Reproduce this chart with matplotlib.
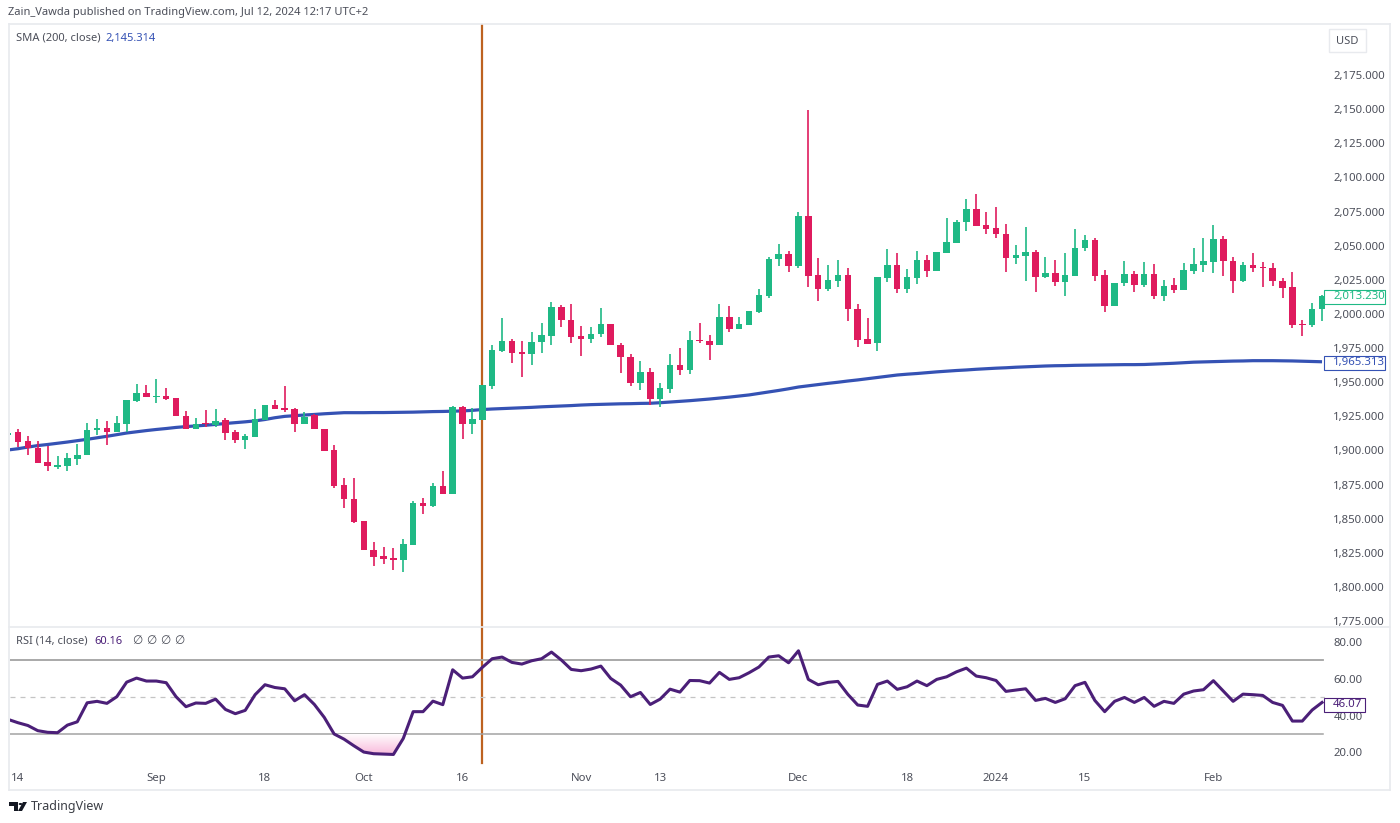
import matplotlib
matplotlib.use("Agg")
import matplotlib.pyplot as plt
import numpy as np
from matplotlib.colors import LinearSegmentedColormap
from matplotlib.patches import Rectangle, Polygon, Circle

plt.rcParams['font.family'] = ['Noto Sans', 'DejaVu Sans']

# daily candles, first one is cut off by the left edge
opens = [1911.4,
    1913.3,1907.2,1901.8,1891.6,1888.1,1888.4,1893.8,1896.7,1915.0,1916.5,
    1913.3,1919.6,1936.3,1942.3,1939.4,1939.7,1938.5,1925.3,1916.0,1920.1,
    1918.5,1922.3,1913.3,1907.7,1910.1,1922.3,1933.5,1930.9,1930.2,1919.6,
    1925.8,1916.0,1900.4,1874.7,1864.4,1848.6,1827.1,1822.7,1821.2,1819.6,
    1831.0,1861.3,1859.3,1874.0,1868.3,1932.1,1919.6,1922.3,1947.3,1972.9,
    1980.2,1972.2,1970.5,1979.3,1984.1,2005.4,1995.6,1983.9,1981.7,1985.4,
    1992.7,1977.5,1968.7,1949.7,1957.7,1937.7,1945.0,1962.4,1959.0,1980.9,
    1980.4,1977.1,1997.8,1989.0,1991.7,2001.5,2013.2,2040.1,2044.0,2035.4,
    2071.8,2028.3,2018.3,2024.4,2028.3,2003.9,1981.7,1978.5,2026.6,2035.9,
    2018.3,2026.6,2039.6,2031.3,2044.9,2052.2,2067.4,2076.9,2065.0,2063.0,
    2058.6,2040.8,2042.7,2045.4,2027.3,2029.8,2023.7,2028.0,2048.4,2054.2,
    2028.3,2005.6,2022.5,2029.1,2021.2,2029.1,2013.4,2021.0,2017.6,2031.7,
    2036.1,2038.3,2054.7,2039.0,2023.9,2035.9,2034.4,2033.7,2024.2,2019.6,
    1992.7,1991.7,2003.9]
closes = [1912.8,
    1906.4,1901.6,1891.0,1888.4,1889.1,1894.3,1896.9,1915.0,1916.7,1913.3,
    1920.1,1937.0,1942.3,1939.4,1939.9,1937.7,1925.3,1915.8,1919.2,1919.2,
    1921.8,1913.0,1907.7,1910.6,1922.8,1933.5,1930.4,1929.9,1919.6,1924.8,
    1915.5,1899.8,1874.2,1864.2,1847.8,1827.1,1822.0,1820.7,1819.6,1831.5,
    1861.3,1859.3,1874.0,1868.1,1932.1,1919.6,1922.8,1948.0,1973.6,1980.2,
    1971.7,1970.5,1979.7,1984.4,2005.4,1995.6,1983.4,1981.7,1985.6,1992.4,
    1977.3,1968.3,1949.7,1957.7,1937.7,1945.8,1962.6,1959.0,1980.7,1980.0,
    1977.1,1997.8,1989.0,1992.7,2002.2,2013.9,2040.5,2044.0,2035.2,2071.8,
    2027.8,2018.3,2024.9,2028.3,2003.7,1981.2,1978.0,2026.9,2035.9,2018.3,
    2026.9,2039.6,2031.3,2045.2,2052.5,2067.2,2076.9,2064.5,2062.3,2058.4,
    2040.8,2043.2,2045.4,2027.3,2029.8,2023.7,2028.3,2048.4,2054.2,2027.8,
    2005.6,2022.7,2029.1,2021.0,2029.1,2013.2,2020.7,2017.6,2032.2,2036.6,
    2038.6,2054.7,2038.8,2023.9,2035.7,2033.7,2033.5,2023.9,2019.3,1992.0,
    1991.7,2003.9,2013.2]
highs = [1915.0,
    1915.8,1910.8,1906.9,1903.1,1895.9,1897.9,1904.7,1919.9,1922.8,1921.8,
    1925.3,1937.0,1948.7,1948.0,1952.4,1945.6,1938.5,1928.7,1923.6,1929.7,
    1930.2,1924.0,1915.0,1912.1,1930.2,1933.5,1937.0,1947.3,1931.4,1928.4,
    1926.7,1916.0,1904.0,1879.6,1879.6,1848.6,1833.2,1829.5,1828.4,1835.0,
    1863.2,1865.0,1876.4,1885.0,1932.6,1932.6,1930.9,1948.0,1977.3,1997.3,
    1981.7,1980.2,1987.0,1993.2,2009.0,2006.6,2007.3,1991.4,1990.2,2004.2,
    1992.7,1978.5,1970.5,1965.6,1960.2,1949.2,1970.7,1974.9,1987.8,1993.2,
    1984.6,2007.3,2005.8,1998.0,2002.2,2018.1,2042.0,2051.3,2046.4,2074.9,
    2149.5,2041.2,2035.9,2039.6,2033.5,2007.1,1996.8,2027.1,2047.4,2044.9,
    2033.0,2046.4,2043.2,2045.2,2070.6,2068.9,2084.0,2087.9,2074.5,2078.6,
    2065.7,2050.5,2063.5,2046.7,2041.5,2039.6,2044.5,2062.3,2057.9,2055.4,
    2032.2,2022.7,2039.0,2031.5,2037.9,2036.6,2024.9,2026.2,2037.1,2048.1,
    2055.4,2065.2,2057.1,2041.5,2038.3,2044.5,2038.3,2037.1,2026.2,2031.0,
    1995.6,2007.8,2013.9]
lows = [1909.9,
    1902.8,1896.7,1890.8,1885.2,1886.6,1885.2,1889.4,1896.7,1911.4,1904.0,
    1913.3,1913.8,1935.3,1939.4,1934.6,1937.0,1925.3,1915.5,1915.5,1917.0,
    1917.0,1907.7,1905.3,1900.9,1910.1,1922.3,1930.2,1928.0,1913.8,1919.6,
    1915.5,1899.8,1872.3,1857.6,1846.7,1827.1,1815.6,1816.9,1812.5,1810.8,
    1831.0,1853.5,1858.8,1868.1,1868.1,1908.2,1912.1,1922.3,1945.0,1971.9,
    1964.3,1953.6,1962.6,1971.2,1977.3,1990.7,1978.5,1969.5,1979.0,1983.4,
    1977.3,1957.0,1947.5,1944.3,1933.3,1932.1,1941.9,1955.3,1956.0,1978.5,
    1966.3,1977.1,1986.8,1989.0,1991.7,2001.0,2011.5,2035.4,2031.0,2033.9,
    2019.6,2009.5,2017.1,2019.8,1994.9,1975.6,1978.0,1973.1,2023.7,2015.6,
    2015.6,2021.8,2026.9,2031.3,2044.9,2052.2,2061.0,2064.5,2058.4,2055.4,
    2030.5,2036.4,2024.4,2016.3,2026.2,2020.7,2013.2,2028.0,2046.4,2024.4,
    2001.7,2005.6,2020.7,2016.3,2020.0,2010.8,2009.7,2015.6,2017.6,2029.3,
    2031.0,2029.8,2027.8,2015.1,2023.7,2031.0,2020.0,2020.5,2011.5,1990.0,
    1983.9,1990.2,1994.9]
sma = [1900.4,
    1901.3,1902.5,1903.6,1904.4,1905.3,1906.2,1907.2,1908.2,1909.3,1910.4,
    1911.6,1912.8,1913.7,1914.6,1915.4,1916.1,1916.9,1917.5,1918.0,1918.5,
    1919.1,1919.8,1920.4,1921.0,1921.7,1922.7,1924.0,1925.0,1925.5,1926.0,
    1926.4,1926.9,1927.3,1927.7,1927.7,1927.7,1927.8,1927.8,1927.9,1928.0,
    1928.1,1928.3,1928.5,1928.6,1928.8,1929.0,1929.4,1930.0,1930.4,1930.7,
    1931.0,1931.3,1931.6,1932.0,1932.3,1932.6,1932.9,1933.3,1933.6,1933.8,
    1934.0,1934.2,1934.3,1934.5,1934.6,1935.0,1935.5,1936.0,1936.5,1937.1,
    1937.7,1938.4,1939.1,1939.9,1940.7,1941.8,1942.9,1944.0,1945.2,1946.5,
    1947.4,1948.3,1949.2,1950.0,1950.9,1951.7,1952.6,1953.5,1954.4,1955.3,
    1955.9,1956.4,1957.0,1957.6,1958.1,1958.6,1959.0,1959.5,1959.9,1960.3,
    1960.6,1961.0,1961.3,1961.6,1961.9,1962.1,1962.2,1962.4,1962.5,1962.6,
    1962.7,1962.8,1962.9,1962.9,1963.0,1963.3,1963.6,1963.9,1964.3,1964.7,
    1964.9,1965.1,1965.3,1965.5,1965.6,1965.8,1965.8,1965.8,1965.7,1965.6,
    1965.4,1965.2,1965.0]
rsi = [37.9,
    36.1,34.6,31.8,30.9,30.7,34.8,36.6,46.9,47.7,46.6,
    50.2,58.1,60.3,58.7,58.7,57.8,50.2,44.8,46.8,46.6,
    48.9,43.3,41.0,42.8,51.3,56.7,55.2,54.5,48.0,51.3,
    46.0,39.0,30.0,27.2,23.6,20.2,19.3,19.1,18.9,27.6,
    42.1,42.1,47.8,45.9,64.8,60.3,61.0,66.1,70.8,71.7,
    68.8,67.9,69.7,70.8,74.4,70.1,65.0,64.3,65.2,66.8,
    60.1,56.5,50.2,52.5,46.0,48.9,54.3,52.7,59.0,58.9,
    57.6,63.4,59.6,60.5,63.2,66.3,71.7,72.4,68.6,75.1,
    59.6,56.7,58.0,58.5,51.5,45.7,45.0,56.9,58.7,54.2,
    55.6,58.7,56.2,59.6,61.0,63.7,65.7,61.4,60.5,59.0,
    53.1,53.8,54.5,48.2,49.3,47.1,49.1,56.2,58.0,48.2,
    42.1,47.7,49.8,47.1,49.8,45.0,47.7,46.6,51.6,53.3,
    54.0,58.9,53.3,47.7,51.6,51.3,50.9,47.1,45.5,37.0,
    37.0,43.0,47.1]

time_idx = [1, 15, 26, 36, 46, 58, 66, 80, 91, 100, 109, 122]
time_labels = ['14', 'Sep', '18', 'Oct', '16', 'Nov', '13', 'Dec', '18', '2024', '15', 'Feb']
price_ticks = [1775, 1800, 1825, 1850, 1875, 1900, 1925, 1950, 1975, 2000,
               2025, 2050, 2075, 2100, 2125, 2150, 2175]
rsi_ticks = [20, 40, 60, 80]
event_idx = 48

W, H = 1400, 823
GREEN = '#1fb985'
RED = '#df1b5e'
BLUE = '#3552b4'
PURPLE = '#4b1f78'
TXT = '#4c4f5a'
EDGE = '#e8eaee'
ORANGE = '#bd6220'


def pane(left, top, right, bottom):
    return fig.add_axes([left / W, 1 - bottom / H, (right - left) / W, (bottom - top) / H])


fig = plt.figure(figsize=(W / 100, H / 100), dpi=100, facecolor='white')
ax = pane(10, 22, 1325, 627)
ax2 = pane(10, 627, 1325, 767)

for a in (ax, ax2):
    a.set_xlim(0.19, 133.3)
    for s in a.spines.values():
        s.set_visible(False)

# price pane
ax.set_ylim(1770.7, 2213.9)
ax.axvline(event_idx, color=ORANGE, lw=1.6, ymax=0.995, zorder=1)
ax.plot(range(len(sma)), sma, color=BLUE, lw=2.3, zorder=2, solid_capstyle='butt')
xs = list(range(len(opens)))
cols = [GREEN if c >= o else RED for o, c in zip(opens, closes)]
ax.vlines(xs, lows, highs, colors=cols, lw=1.2, zorder=3)
ax.bar(xs, [abs(c - o) for o, c in zip(opens, closes)], bottom=[min(o, c) for o, c in zip(opens, closes)],
       width=0.66, color=cols, zorder=4, linewidth=0)
ax.yaxis.tick_right()
ax.set_yticks(price_ticks)
ax.set_yticklabels([f'{v:,.3f}' for v in price_ticks])
ax.tick_params(axis='y', length=0, pad=6, labelsize=8.2, labelcolor=TXT)
ax.set_xticks([])

# rsi pane
ax2.set_ylim(12.1, 88.0)
ax2.axvline(event_idx, color=ORANGE, lw=1.6, ymin=0.03, zorder=1)
ax2.axhline(70, color='#a3a3a3', lw=1.3, xmax=0.9985, zorder=1)
ax2.axhline(30, color='#a3a3a3', lw=1.1, xmax=0.9985, zorder=1)
ax2.axhline(50, color='#c4c4c4', lw=0.9, ls=(0, (4, 4)), zorder=1)
# oversold shading fades towards the 30 line
pink = LinearSegmentedColormap.from_list('pink_fade', ['#f9bcdc', '#ffffff'])
low_fill = ax2.fill_between(range(len(rsi)), rsi, 30, where=[v < 30 for v in rsi], interpolate=True,
                            color='none', lw=0)
grad = ax2.imshow(np.linspace(0, 1, 64).reshape(-1, 1), origin='lower', cmap=pink, aspect='auto',
                  extent=(0.19, 133.3, min(rsi), 30), zorder=1)
grad.set_clip_path(low_fill.get_paths()[0], transform=ax2.transData)
ax2.set_xlim(0.19, 133.3)
ax2.set_ylim(12.1, 88.0)
ax2.plot(range(len(rsi)), rsi, color=PURPLE, lw=2.2, zorder=3)
ax2.yaxis.tick_right()
ax2.set_yticks(rsi_ticks)
ax2.set_yticklabels([f'{v:.2f}' for v in rsi_ticks])
ax2.tick_params(axis='y', length=0, pad=6, labelsize=8.2, labelcolor=TXT)
ax2.set_xticks(time_idx)
ax2.set_xticklabels(time_labels)
ax2.tick_params(axis='x', length=0, pad=4, labelsize=8.2, labelcolor=TXT)
for t, lab in zip(ax2.get_xticklabels(), time_labels):
    if lab == '2024':
        t.set_fontweight('bold')


def ftext(x, y, s, **kw):
    kw.setdefault('fontsize', 8.0)
    kw.setdefault('color', TXT)
    kw.setdefault('va', 'center')
    return fig.text(x / W, 1 - y / H, s, **kw)


def tag(y, s, col, right=1385):
    fig.add_artist(Rectangle((1324 / W, 1 - (y + 7) / H), (right - 1324) / W, 14 / H,
                             transform=fig.transFigure, fc='white', ec=col, lw=0.8, zorder=5))
    ftext(1333, y, s, color=col, fontsize=8.2, zorder=6)


def fline(x0, y0, x1, y1):
    fig.add_artist(plt.Line2D([x0 / W, x1 / W], [1 - y0 / H, 1 - y1 / H], color=EDGE, lw=1.2))


# frame
fline(9, 24, 1390, 24)
fline(9, 627, 1390, 627)
fline(9, 790, 1390, 790)
fline(9, 24, 9, 790)
fline(1390, 24, 1390, 790)

# texts
ftext(8, 13, 'Zain_Vawda published on TradingView.com, Jul 12, 2024 12:17 UTC+2')
ftext(16, 38, 'SMA (200, close)')
ftext(105, 38, '2,145.314', color=BLUE)
ftext(16, 641, 'RSI (14, close)')
ftext(94, 641, '60.16', color=PURPLE)
for x in (132, 146, 160, 174):
    ftext(x, 641, '∅', fontsize=8.6)
ftext(1347, 41, 'USD', ha='center')
fig.add_artist(Rectangle((1329 / W, 1 - 52 / H), 37 / W, 23 / H, transform=fig.transFigure,
                         fc='none', ec=EDGE, lw=1))

tag(296.5, '2,013.230', GREEN)
tag(362.5, '1,965.313', BLUE)
tag(704.5, '46.07', PURPLE, right=1365)

# logo
fig.add_artist(Polygon([(9 / W, 1 - 802 / H), (18 / W, 1 - 802 / H), (18 / W, 1 - 811 / H),
                        (14 / W, 1 - 811 / H), (14 / W, 1 - 806 / H), (9 / W, 1 - 806 / H)],
                       transform=fig.transFigure, fc='#131722', ec='none'))
fig.add_artist(Circle((20.5 / W, 1 - 804 / H), 1.8 / W, transform=fig.transFigure, fc='#131722', ec='none'))
fig.add_artist(Polygon([(23 / W, 1 - 802 / H), (27 / W, 1 - 802 / H), (22 / W, 1 - 811 / H),
                        (18 / W, 1 - 811 / H)], transform=fig.transFigure, fc='#131722', ec='none'))
ftext(31, 806.5, 'TradingView', fontsize=9.0, color='#3c3f46')

fig.savefig('out.png', dpi=100)
